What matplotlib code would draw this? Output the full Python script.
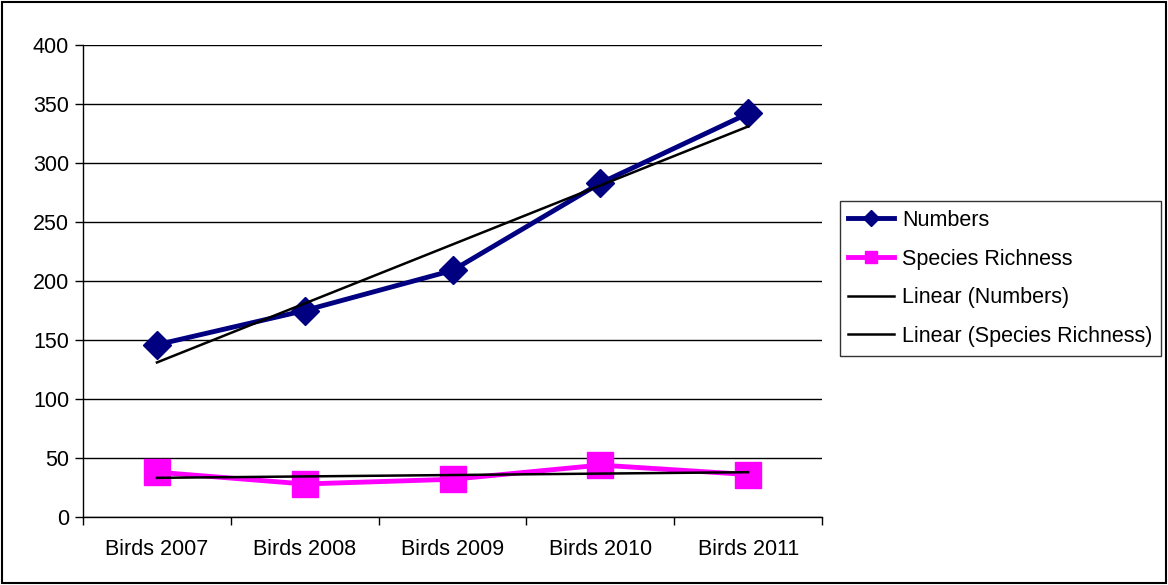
import matplotlib.pyplot as plt
from matplotlib.lines import Line2D
from matplotlib.patches import Rectangle
import numpy as np

plt.rcParams['font.family'] = ['Liberation Sans', 'DejaVu Sans']

categories = ["Birds 2007", "Birds 2008", "Birds 2009", "Birds 2010", "Birds 2011"]
numbers = [146, 175, 209, 283, 342]
species_richness = [38, 28, 32, 44, 36]

x = np.arange(1, len(categories) + 1)

# linear trend lines
num_fit = np.polyval(np.polyfit(x, numbers, 1), x)
sr_fit = np.polyval(np.polyfit(x, species_richness, 1), x)

fig = plt.figure(figsize=(11.68, 5.85), dpi=100)
ax = fig.add_axes([0.0711, 0.1162, 0.6327, 0.8068])

navy = "#000080"
magenta = "#FF00FF"
fs = 15.5

ax.plot(x, numbers, color=navy, lw=3.5, marker="D", markersize=14, zorder=4)
ax.plot(x, species_richness, color=magenta, lw=3.5, marker="s", markersize=19, zorder=4)
ax.plot(x, num_fit, color="black", lw=1.8, zorder=5)
ax.plot(x, sr_fit, color="black", lw=1.8, zorder=5)

ax.set_xlim(0.5, 5.5)
ax.set_ylim(0, 400)
ax.set_yticks(range(0, 401, 50))
ax.yaxis.grid(True, color="black", lw=1)
ax.set_axisbelow(True)

# category boundaries get the tick marks, labels sit in the middle
ax.set_xticks(np.arange(0.5, 5.6, 1))
ax.set_xticklabels([])
ax.set_xticks(x, minor=True)
ax.set_xticklabels(categories, minor=True)
ax.tick_params(axis="x", which="major", length=6, width=1, direction="out")
ax.tick_params(axis="x", which="minor", length=0, pad=16, labelsize=fs)
ax.tick_params(axis="y", length=6, width=1, direction="out", pad=4, labelsize=fs)

for s in ["top", "right"]:
    ax.spines[s].set_visible(False)
ax.spines["left"].set_linewidth(1)
ax.spines["bottom"].set_linewidth(1)

handles = [
    Line2D([], [], color=navy, lw=3.5, marker="D", markersize=8),
    Line2D([], [], color=magenta, lw=3.5, marker="s", markersize=8),
    Line2D([], [], color="black", lw=1.8),
    Line2D([], [], color="black", lw=1.8),
]
labels = ["Numbers", "Species Richness", "Linear (Numbers)", "Linear (Species Richness)"]
leg = fig.legend(handles, labels, loc="center left", bbox_to_anchor=(0.719, 0.524),
                 fontsize=fs, frameon=True, fancybox=False, edgecolor="black",
                 handlelength=2.1, handletextpad=0.4, labelspacing=0.82,
                 borderpad=0.4, borderaxespad=0)
leg.get_frame().set_linewidth(1)

# outer chart border
fig.patches.append(Rectangle((0.002, 0.003), 0.996, 0.994, transform=fig.transFigure,
                             fill=False, edgecolor="black", lw=1.5))

fig.savefig("out.png", dpi=100)
